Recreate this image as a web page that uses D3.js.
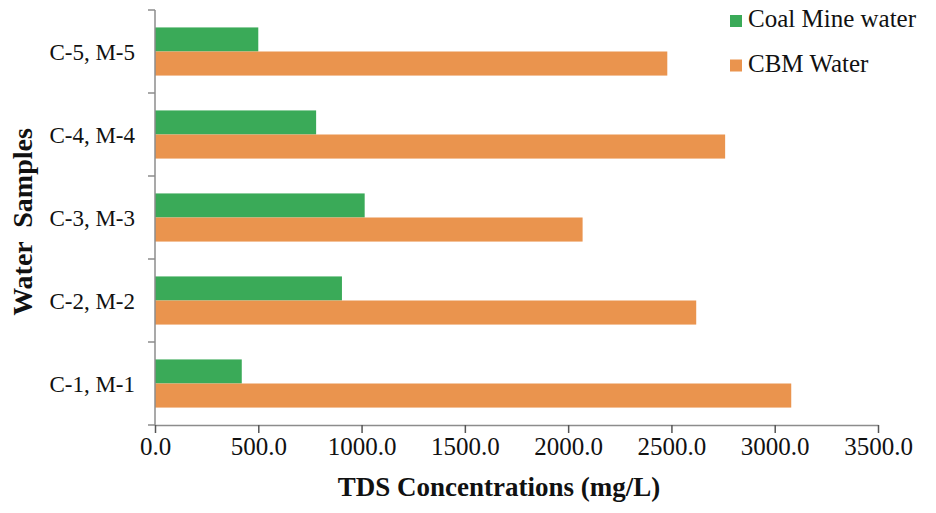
<!DOCTYPE html>
<html><head><meta charset="utf-8">
<script src="https://cdn.jsdelivr.net/npm/d3@7"></script>
<style>body{margin:0;background:#fff}svg{display:block}</style>
</head><body>
<script>
const categories = ["C-1, M-1","C-2, M-2","C-3, M-3","C-4, M-4","C-5, M-5"];
const seriesNames = ["Coal Mine water","CBM Water"];
const coalMine = [420, 905, 1015, 780, 500];
const cbm = [3080, 2620, 2070, 2760, 2480];
const xTicks = [0,500,1000,1500,2000,2500,3000,3500];
const colors = ["#3aaa58","#ea944e"];

(function(){
const W=936,H=513;
const svg=d3.select("body").append("svg").attr("width",W).attr("height",H);
const mLeft=155,mRight=878,mTop=10,mBottom=425;
const x=d3.scaleLinear().domain([0,3500]).range([mLeft,mRight]);
const y=d3.scaleBand().domain(categories.slice().reverse()).range([mTop,mBottom]).paddingInner(0.42).paddingOuter(0.21);
const ys=d3.scaleBand().domain(seriesNames).range([0,y.bandwidth()]);
const serif="'Liberation Serif','Times New Roman',serif";

const data=categories.map((c,i)=>({c,vals:[coalMine[i],cbm[i]]}));
const g=svg.append("g");
data.forEach(d=>{
  d.vals.forEach((v,j)=>{
    g.append("rect").attr("x",x(0)).attr("y",y(d.c)+ys(seriesNames[j]))
     .attr("width",x(v)-x(0)).attr("height",ys.bandwidth()).attr("fill",colors[j]);
  });
});

const yAxisG=svg.append("g");
yAxisG.append("line").attr("x1",mLeft).attr("x2",mLeft).attr("y1",mTop).attr("y2",mBottom).attr("stroke","#8c8c8c").attr("stroke-width",1.5);
const bounds=d3.range(categories.length+1).map(i=>mTop+i*y.step());
yAxisG.selectAll("line.t").data(bounds).enter().append("line")
  .attr("x1",mLeft-7).attr("x2",mLeft).attr("y1",d=>d).attr("y2",d=>d).attr("stroke","#8c8c8c").attr("stroke-width",1.5);
yAxisG.selectAll("text").data(categories).enter().append("text")
  .attr("x",mLeft-20).attr("y",d=>y(d)+y.bandwidth()/2).attr("dy","0.35em")
  .attr("text-anchor","end").attr("font-family",serif).attr("font-size",23).attr("fill","#111").text(d=>d);

const xAxis=d3.axisBottom(x).tickValues(xTicks).tickFormat(d3.format(".1f")).tickSizeInner(8).tickSizeOuter(0);
const xg=svg.append("g").attr("transform",`translate(0,${mBottom})`).call(xAxis);
xg.select(".domain").attr("stroke","#8c8c8c").attr("stroke-width",1.5);
xg.selectAll(".tick line").attr("stroke","#555").attr("stroke-width",1.5);
xg.selectAll(".tick text").attr("font-family",serif).attr("font-size",25).attr("fill","#111").attr("y",12).attr("dy","0.71em");

svg.append("text").attr("x",499).attr("y",496).attr("text-anchor","middle")
  .attr("font-family",serif).attr("font-weight","bold").attr("font-size",27).attr("fill","#111")
  .text("TDS Concentrations (mg/L)");
svg.append("text").attr("transform","translate(32,222) rotate(-90)").attr("text-anchor","middle")
  .attr("font-family",serif).attr("font-weight","bold").attr("font-size",28).attr("fill","#111")
  .style("white-space","pre")
  .text("Water  Samples");

const lg=svg.append("g");
seriesNames.forEach((s,i)=>{
  const yy=15+i*44.5;
  lg.append("rect").attr("x",730).attr("y",yy).attr("width",12).attr("height",12).attr("fill",colors[i]);
  lg.append("text").attr("x",748).attr("y",yy+12).attr("font-family",serif).attr("font-size",25).attr("fill","#111").text(s);
});
})();
</script>
</body></html>
